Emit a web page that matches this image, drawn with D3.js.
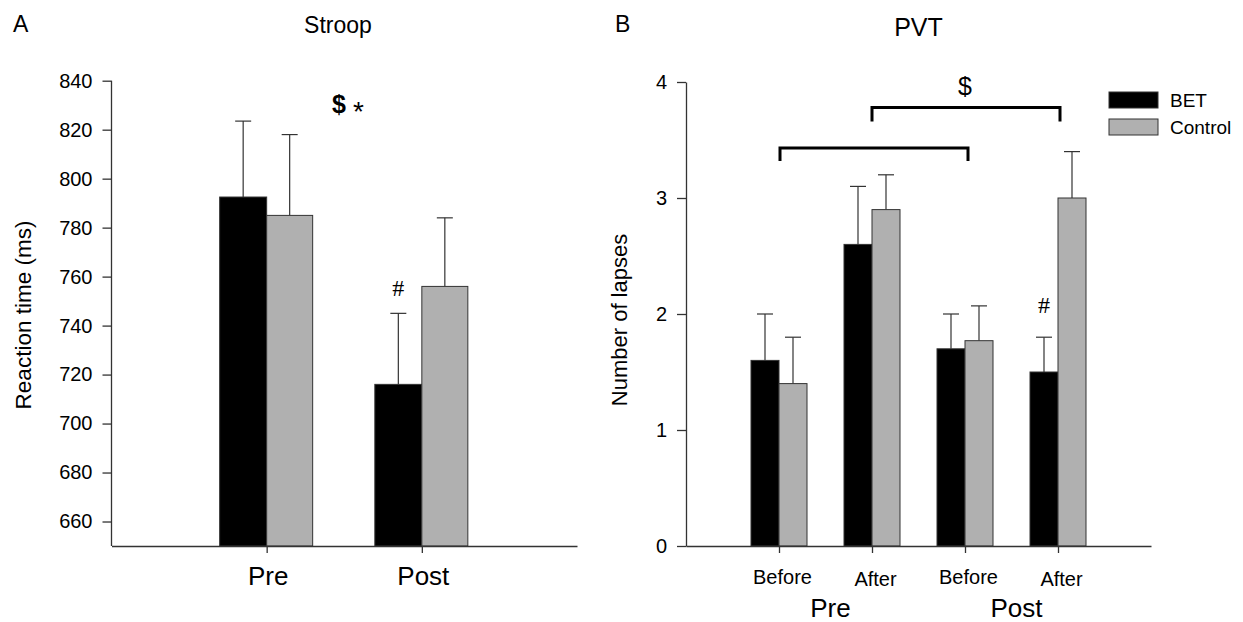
<!DOCTYPE html>
<html>
<head>
<meta charset="utf-8">
<script src="https://cdn.jsdelivr.net/npm/d3@7"></script>
<style>
  body { margin: 0; background: #fff; }
  svg { display: block; font-family: "Liberation Sans", Arial, sans-serif; }
  .axis path, .axis line { stroke: #333; stroke-width: 1.3px; }
  .axis text { fill: #000; }
</style>
</head>
<body>
<svg id="chart" width="1243" height="622"></svg>
<script>
// Panel A: Stroop reaction time
const stroopPhases = ["Pre", "Post"];
const stroopBET = [792.5, 716];
const stroopBETErr = [31, 29];
const stroopControl = [785, 756];
const stroopControlErr = [33, 28];
const stroopTicks = [660, 680, 700, 720, 740, 760, 780, 800, 820, 840];

// Panel B: PVT lapses
const pvtSessions = ["Before", "After", "Before", "After"];
const pvtPhases = ["Pre", "Post"];
const pvtBET = [1.6, 2.6, 1.7, 1.5];
const pvtBETErr = [0.4, 0.5, 0.3, 0.3];
const pvtControl = [1.4, 2.9, 1.77, 3.0];
const pvtControlErr = [0.4, 0.3, 0.3, 0.4];
const pvtTicks = [0, 1, 2, 3, 4];

const groups = ["BET", "Control"];
const fills = { BET: "#000000", Control: "#b0b0b0" };

const svg = d3.select("#chart");

/**
 * Draw one group of paired bars with upward error bars.
 */
function drawBars(g, x, y, values, errs, group, side, barW) {
  const base = y.domain()[0];
  values.forEach(function (v, i) {
    const cx = x(i + 1);
    const x0 = side < 0 ? cx - barW : cx;
    const mid = x0 + barW / 2;
    // error bar first so the bar covers its lower end
    g.append("line")
      .attr("x1", mid).attr("x2", mid)
      .attr("y1", y(v)).attr("y2", y(v + errs[i]))
      .attr("stroke", "#333").attr("stroke-width", 1.2);
    g.append("line")
      .attr("x1", mid - 8).attr("x2", mid + 8)
      .attr("y1", y(v + errs[i])).attr("y2", y(v + errs[i]))
      .attr("stroke", "#333").attr("stroke-width", 1.2);
    g.append("rect")
      .attr("x", x0)
      .attr("y", y(v))
      .attr("width", barW)
      .attr("height", y(base) - y(v))
      .attr("fill", fills[group])
      .attr("stroke", "#333")
      .attr("stroke-width", 1);
  });
}

// ---------- Panel A ----------
const xA = d3.scaleLinear().domain([0, 3]).range([111.5, 577]);
const yA = d3.scaleLinear().domain([650, 840]).range([546, 80.7]);
const gA = svg.append("g");

drawBars(gA, xA, yA, stroopBET, stroopBETErr, "BET", -1, 47);
drawBars(gA, xA, yA, stroopControl, stroopControlErr, "Control", 1, 46);

gA.append("g")
  .attr("class", "axis")
  .attr("transform", "translate(" + xA(0) + ",0)")
  .call(d3.axisLeft(yA).tickValues(stroopTicks).tickSize(9).tickPadding(10).tickSizeOuter(0))
  .call(function (a) { a.selectAll("text").style("font-size", "20px"); })
  .select(".domain").attr("d", "M0," + yA(840) + "V" + yA(650));

gA.append("g")
  .attr("class", "axis")
  .attr("transform", "translate(0," + yA(650) + ")")
  .call(d3.axisBottom(xA).tickValues([1, 2]).tickSize(7).tickSizeOuter(0)
    .tickFormat(function (d) { return stroopPhases[d - 1]; }))
  .call(function (a) {
    a.selectAll("text").style("font-size", "26px").attr("y", 21).attr("dx", 1);
  });

gA.append("text")
  .attr("transform", "translate(31,315) rotate(-90)")
  .attr("text-anchor", "middle")
  .style("font-size", "22.5px")
  .text("Reaction time (ms)");

gA.append("text").attr("x", 13).attr("y", 32).style("font-size", "23px").text("A");
gA.append("text").attr("x", 338).attr("y", 33).attr("text-anchor", "middle")
  .style("font-size", "23px").text("Stroop");

gA.append("text").attr("x", 332).attr("y", 113).style("font-size", "25px")
  .style("font-weight", "bold").text("$");
gA.append("text").attr("x", 353).attr("y", 121).style("font-size", "28px").text("*");
gA.append("text").attr("x", xA(2) - 47 / 2).attr("y", 296).attr("text-anchor", "middle")
  .style("font-family", "'Liberation Serif', serif").style("font-size", "24px").text("#");

// ---------- Panel B ----------
const xB = d3.scaleLinear().domain([0, 5]).range([686, 1151]);
const yB = d3.scaleLinear().domain([0, 4]).range([546, 82]);
const gB = svg.append("g");

drawBars(gB, xB, yB, pvtBET, pvtBETErr, "BET", -1, 28);
drawBars(gB, xB, yB, pvtControl, pvtControlErr, "Control", 1, 28);

gB.append("g")
  .attr("class", "axis")
  .attr("transform", "translate(" + xB(0) + ",0)")
  .call(d3.axisLeft(yB).tickValues(pvtTicks).tickSize(9).tickPadding(10).tickSizeOuter(0)
    .tickFormat(d3.format("d")))
  .call(function (a) { a.selectAll("text").style("font-size", "20px"); });

gB.append("g")
  .attr("class", "axis")
  .attr("transform", "translate(0," + yB(0) + ")")
  .call(d3.axisBottom(xB).tickValues([1, 2, 3, 4]).tickSize(7).tickSizeOuter(0)
    .tickFormat(function (d) { return pvtSessions[d - 1]; }))
  .call(function (a) {
    a.selectAll("text").style("font-size", "20px").attr("dx", 3)
      .attr("y", function (d) { return d % 2 ? 24 : 26; });
  });

// phase labels under each pair of sessions
pvtPhases.forEach(function (p, i) {
  gB.append("text")
    .attr("x", (xB(i * 2 + 1) + xB(i * 2 + 2)) / 2 + 5)
    .attr("y", 617)
    .attr("text-anchor", "middle")
    .style("font-size", "26px")
    .text(p);
});

gB.append("text")
  .attr("transform", "translate(627,320) rotate(-90)")
  .attr("text-anchor", "middle")
  .style("font-size", "22px")
  .text("Number of lapses");

gB.append("text").attr("x", 615).attr("y", 32).style("font-size", "23px").text("B");
gB.append("text").attr("x", (xB(0) + xB(5)) / 2).attr("y", 36).attr("text-anchor", "middle")
  .style("font-size", "25px").text("PVT");

// significance brackets
function bracket(g, xs, xe, top, bottom) {
  g.append("path")
    .attr("d", "M" + xs + "," + yB(bottom) + "V" + yB(top) + "H" + xe + "V" + yB(bottom))
    .attr("fill", "none").attr("stroke", "#000").attr("stroke-width", 3);
}
bracket(gB, xB(2), xB(4) + 2, 3.78, 3.66);
bracket(gB, xB(1) + 1, xB(3) + 3, 3.43, 3.32);

gB.append("text").attr("x", (xB(2) + xB(4)) / 2).attr("y", 95).attr("text-anchor", "middle")
  .style("font-size", "25px").text("$");
gB.append("text").attr("x", xB(4) - 14).attr("y", 313).attr("text-anchor", "middle")
  .style("font-family", "'Liberation Serif', serif").style("font-size", "24px").text("#");

// legend
const legend = gB.append("g").attr("transform", "translate(1109,92)");
groups.forEach(function (grp, i) {
  legend.append("rect")
    .attr("x", 0).attr("y", i * 27)
    .attr("width", 49).attr("height", 16)
    .attr("fill", fills[grp]).attr("stroke", "#333").attr("stroke-width", 1);
  legend.append("text")
    .attr("x", 61).attr("y", i * 27 + 15)
    .style("font-size", "19px")
    .text(grp);
});
</script>
</body>
</html>
